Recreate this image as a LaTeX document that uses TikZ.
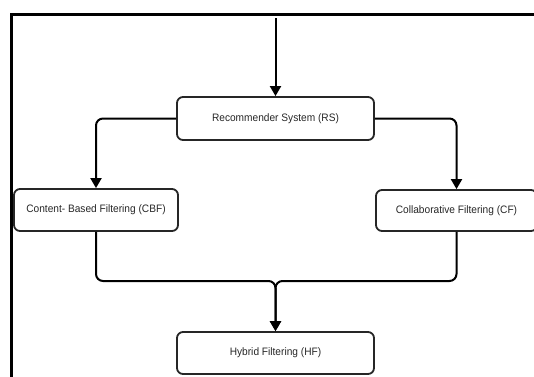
\documentclass[tikz,border=0pt]{standalone}
\usepackage{fontspec}
\setmainfont[FakeStretch=0.94]{Liberation Sans}
\usetikzlibrary{arrows.meta}

\begin{document}
\begin{tikzpicture}[x=1pt,y=-1pt,
	box/.style={draw=black!85, line width=1.8pt, rounded corners=6pt, inner sep=0pt,
		font=\fontsize{10.8}{13}\selectfont, text=black!85},
	link/.style={line width=2pt, rounded corners=7pt,
		-{Triangle[length=10pt,width=11pt]}}]
	\useasboundingbox (0,0) rectangle (534,376);
	\clip (0,0) rectangle (534,376);
	\draw[line width=3pt] (11,390) -- (11,14) -- (545,14);
	\node[box, minimum width=197pt, minimum height=43pt] (rs) at (275.5,118.5) {Recommender System (RS)};
	\node[box, minimum width=164pt, minimum height=42pt] (cbf) at (96,210) {Content- Based Filtering (CBF)};
	\node[box, minimum width=161pt, minimum height=41pt] (cf) at (456.5,210.5) {Collaborative Filtering (CF)};
	\node[box, minimum width=197pt, minimum height=42pt] (hf) at (275.5,353) {Hybrid Filtering (HF)};
	\coordinate (in) at (275.5,18);
	\coordinate (merge) at (275.5,281);
	\draw[link] (in) -- (rs.north);
	\draw[link] (rs.west) -| (cbf.north);
	\draw[link] (rs.east) -| (cf.north);
	\draw[link] (cbf.south) |- (merge) -- (hf.north);
	\draw[link] (cf.south) |- (merge) -- (hf.north);
\end{tikzpicture}
\end{document}
